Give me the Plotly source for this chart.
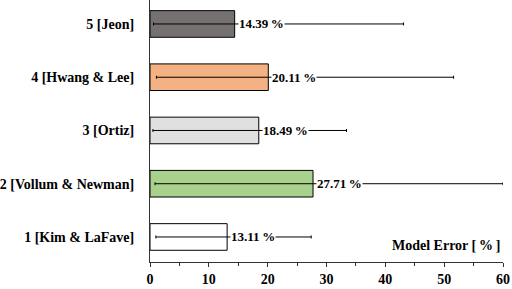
import plotly.graph_objects as go

categories = ["1 [Kim & LaFave]", "2 [Vollum & Newman]", "3 [Ortiz]", "4 [Hwang & Lee]", "5 [Jeon]"]
mean_err = [13.11, 27.71, 18.49, 20.11, 14.39]
min_err = [1.0, 0.85, 0.5, 1.1, 0.6]
max_err = [27.4, 60.0, 33.4, 51.6, 43.1]
colors = ["#FFFFFF", "#A9D18E", "#E0E0E0", "#F4B183", "#757171"]
labels = [f"{v:.2f}\u2009%" for v in mean_err]
xticks = [0, 10, 20, 30, 40, 50, 60]

FONT = "Liberation Serif"

fig = go.Figure()
fig.add_trace(go.Bar(
    y=categories, x=mean_err, orientation="h",
    marker=dict(color=colors, line=dict(color="black", width=1)),
    width=0.5,
    error_x=dict(type="data", symmetric=False,
                 array=[mx - m for mx, m in zip(max_err, mean_err)],
                 arrayminus=[m - mn for m, mn in zip(mean_err, min_err)],
                 color="black", thickness=1, width=1.5),
))

for c, v, t in zip(categories, mean_err, labels):
    fig.add_annotation(x=v, y=c, text=f"<b>{t}</b>", showarrow=False,
                       xanchor="left", xshift=3, bgcolor="white", borderpad=0,
                       font=dict(family=FONT, size=13, color="black"))

fig.add_annotation(x=1, y=0.028, xref="paper", yref="paper", xanchor="right", yanchor="bottom",
                   text="<b>Model Error [\u2009%\u2009]</b>", showarrow=False,
                   font=dict(family=FONT, size=14, color="black"))

fig.update_layout(
    width=512, height=289,
    margin=dict(l=150, r=9, t=0, b=27),
    plot_bgcolor="white", paper_bgcolor="white",
    showlegend=False,
    font=dict(family=FONT, size=14, color="black"),
)
fig.update_xaxes(range=[0, 60], tickvals=xticks,
                 ticktext=[f"<b>{v}</b>" for v in xticks],
                 showline=True, linecolor="#333", linewidth=1, ticks="outside",
                 ticklen=4, tickcolor="#333", showgrid=False, zeroline=False,
                 minor=dict(dtick=5, ticks="outside", ticklen=3, tickcolor="#333"),
                 tickfont=dict(family=FONT, size=14), automargin=False)
fig.update_yaxes(range=[-0.47, 4.45], showline=True, linecolor="#333", linewidth=1,
                 ticks="", showgrid=False, ticklabelstandoff=12, automargin=False,
                 tickvals=categories, ticktext=[f"<b>{c}</b>" for c in categories],
                 tickfont=dict(family=FONT, size=14))

fig.write_html("out.html", config={"displayModeBar": False},
               post_script="document.body.style.margin='0';document.body.style.overflow='hidden';")
